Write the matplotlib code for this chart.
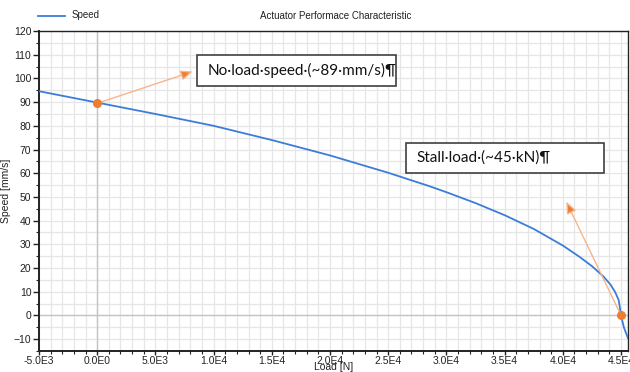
import numpy as np
import matplotlib.pyplot as plt
from matplotlib.patches import Rectangle
from matplotlib.lines import Line2D
from matplotlib.ticker import MultipleLocator, FixedLocator, FixedFormatter

# data
load = [-5000, 0, 5000, 10000, 15000, 20000, 25000, 28500, 30000, 32500,
        35000, 37500, 40000, 41500, 42500, 43500, 44100, 44500, 44800,
        44900, 45000, 45250, 45600]
speed = [94.6, 89.8, 85.0, 80.0, 74.0, 67.5, 60.2, 54.6, 52.0, 47.4,
         42.3, 36.5, 29.5, 24.5, 20.8, 16.4, 13.0, 9.8, 6.5,
         3.4, 0.0, -5.1, -9.6]

xticks = [-5000, 0, 5000, 10000, 15000, 20000, 25000, 30000, 35000, 40000, 45000]
xticklabels = ["-5.0E3", "0.0E0", "5.0E3", "1.0E4", "1.5E4", "2.0E4",
               "2.5E4", "3.0E4", "3.5E4", "4.0E4", "4.5E4"]

noload_pt = (0, 89.5)
noload_tip = (8200, 102.9)
stall_pt = (45000, 0)
stall_tip = (40300, 48)

noload_text = "No·load·speed·(~89·mm/s)¶"
stall_text = "Stall·load·(~45·kN)¶"

line_col = '#3b7dd8'
orange = '#ed7d31'
light_orange = '#f7b58a'
grid_col = '#e6e6e6'

plt.rcParams['font.family'] = ['Liberation Sans', 'DejaVu Sans']

fig = plt.figure(figsize=(6.3, 3.72), dpi=100)
ax = fig.add_axes([39/630, 21/372, 589/630, 320/372])

ax.set_xlim(-5000, 45600)
ax.set_ylim(-15, 120)

ax.xaxis.set_major_locator(FixedLocator(xticks))
ax.xaxis.set_major_formatter(FixedFormatter(xticklabels))
ax.xaxis.set_minor_locator(MultipleLocator(1000))
ax.yaxis.set_major_locator(MultipleLocator(10))
ax.yaxis.set_minor_locator(MultipleLocator(5))

ax.grid(True, which='both', color=grid_col, lw=0.9, zorder=0)
ax.axhline(0, color='#c4c4c4', lw=1.0, zorder=1)
ax.axvline(0, color='#c4c4c4', lw=1.0, zorder=1)
ax.set_axisbelow(True)

ax.tick_params(which='major', length=4, width=1, labelsize=7.5, pad=1.5, colors='#222222')
ax.tick_params(which='minor', length=2, width=0.8, colors='#222222')
ax.tick_params(axis='x', which='major', length=3, pad=0.5)
for s in ax.spines.values():
    s.set_color('#222222')
    s.set_linewidth(1.0)
ax.spines['left'].set_linewidth(1.4)
ax.spines['bottom'].set_linewidth(1.4)

ax.plot(load, speed, color=line_col, lw=1.3, zorder=3)

# annotation arrows and points
for pt, tip in [(noload_pt, noload_tip), (stall_pt, stall_tip)]:
    ax.annotate("", xy=tip, xytext=pt,
                arrowprops=dict(arrowstyle='-|>,head_length=0.7,head_width=0.3',
                                ec=light_orange, fc=orange, lw=1.0,
                                shrinkA=0, shrinkB=0), zorder=4)
    ax.plot([pt[0]], [pt[1]], 'o', color=orange, ms=5.5, zorder=5)

# text boxes
ax.add_patch(Rectangle((0.268, 0.828), 0.338, 0.097, transform=ax.transAxes,
                       fc='white', ec='#404040', lw=1.2, zorder=6))
ax.text(0.287, 0.877, noload_text, transform=ax.transAxes, family=['Lato', 'DejaVu Sans'],
        fontsize=11, va='center', ha='left', color='#111111', zorder=7)
ax.add_patch(Rectangle((0.623, 0.556), 0.336, 0.094, transform=ax.transAxes,
                       fc='white', ec='#404040', lw=1.2, zorder=6))
ax.text(0.641, 0.603, stall_text, transform=ax.transAxes, family=['Lato', 'DejaVu Sans'],
        fontsize=11, va='center', ha='left', color='#111111', zorder=7)

ax.set_ylabel("Speed [mm/s]", fontsize=7.5, labelpad=2, color='#222222')
fig.text(334/630, 1 - 366.5/372, "Load [N]", fontsize=7.5, ha='center', va='center',
         color='#222222')

fig.text(336/630, 1 - 16/372, "Actuator Performace Characteristic",
         fontsize=7, ha='center', va='center', color='#222222')

# legend
fig.add_artist(Line2D([38/630, 65/630], [1 - 15.5/372, 1 - 15.5/372],
                      color=line_col, lw=1.3))
fig.text(72/630, 1 - 15.5/372, "Speed", fontsize=7, ha='left', va='center', color='#222222')

fig.savefig("out.png", dpi=100)
